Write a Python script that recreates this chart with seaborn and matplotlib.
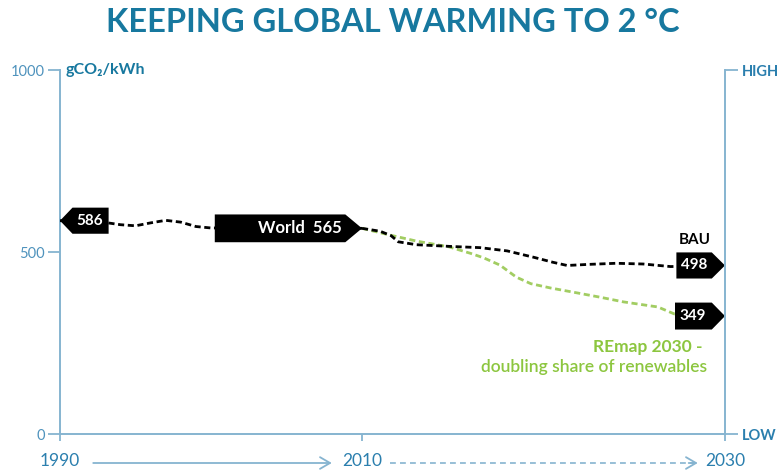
import numpy as np
import pandas as pd
import matplotlib
matplotlib.use("Agg")
import matplotlib.pyplot as plt
import seaborn as sns
from matplotlib.patches import Polygon
from matplotlib.transforms import Affine2D, ScaledTranslation, blended_transform_factory

sns.set_theme(style="ticks")
plt.rcParams['font.family'] = ['Lato', 'DejaVu Sans']

# data (gCO2/kWh)
world_years = [1990, 1992, 1993, 1994, 1995, 1996, 1997, 1998, 1999, 2000, 2003, 2006, 2010]
world_vals = [586, 586, 581, 575, 572, 580, 587, 582, 570, 566, 566, 565, 565]

bau_years = [2010, 2011, 2011.6, 2012, 2013, 2015, 2016.5, 2018, 2019.5, 2020.5, 2021.3,
             2022.5, 2024, 2025.5, 2027, 2030]
bau_vals = [565, 557, 545, 528, 520, 515, 512, 503, 485, 472, 463,
            466, 469, 467, 460, 463]

remap_years = [2010, 2011.5, 2013, 2014.8, 2016, 2016.7, 2017.6, 2018.5, 2019.3, 2020.4,
               2021.6, 2023.1, 2024.4, 2026.3, 2027.2, 2030]
remap_vals = [565, 547, 530, 514, 496, 484, 464, 431, 413, 401,
              390, 376, 363, 349, 330, 324]

world_label = "World  565"
start_label = "586"
bau_label = "498"
remap_label = "349"

year_ticks = [1990, 2010, 2030]
y_ticks = [0, 500, 1000]
y_tick_labels = ["0", "500", "1000"]
right_labels = ["LOW", "HIGH"]

title = "KEEPING GLOBAL WARMING TO 2 °C"

title_color = "#17789f"
axis_color = "#86b4d0"
tick_color = "#4f93bd"
year_color = "#2b7fae"
green = "#8cc63f"
line_green = "#a2cd62"

fig = plt.figure(figsize=(7.8, 4.71), dpi=100)
ax = fig.add_axes([60 / 780, 37 / 471, 665 / 780, 364 / 471])

dash = (0, (2.2, 1.3))
sns.lineplot(data=pd.DataFrame({'year': world_years, 'value': world_vals}),
             x='year', y='value', ax=ax, color='black', lw=2, linestyle=dash, zorder=3)
sns.lineplot(data=pd.DataFrame({'year': remap_years, 'value': remap_vals}),
             x='year', y='value', ax=ax, color=line_green, lw=2, linestyle=dash, zorder=2)
sns.lineplot(data=pd.DataFrame({'year': bau_years, 'value': bau_vals}),
             x='year', y='value', ax=ax, color='black', lw=2, linestyle=dash, zorder=3)


# the original stretches 2010-2030 wider than 1990-2010
def fwd(x):
    x = np.asarray(x, dtype=float)
    return np.where(x <= 2010, (x - 1990) / 20 * 302, 302 + (x - 2010) / 20 * 363)


def inv(u):
    u = np.asarray(u, dtype=float)
    return np.where(u <= 302, 1990 + u / 302 * 20, 2010 + (u - 302) / 363 * 20)


ax.set_xscale('function', functions=(fwd, inv))
ax.set_xlim(1990, 2030)
ax.set_ylim(0, 1000)
ax.set_xticks(year_ticks)
ax.set_xticklabels([str(y) for y in year_ticks])
ax.set_yticks(y_ticks)
ax.set_yticklabels(y_tick_labels)
ax.minorticks_off()
ax.set_xlabel('')
ax.set_ylabel('')
ax.tick_params(axis='y', length=9, width=1.3, color=axis_color, pad=2, labelsize=10.5, labelcolor=tick_color)
ax.tick_params(axis='x', length=5, width=1.3, color=axis_color, pad=9, labelsize=12.5, labelcolor=year_color)
for s in ['top', 'right']:
    ax.spines[s].set_visible(False)
for s in ['left', 'bottom']:
    ax.spines[s].set_color(axis_color)
    ax.spines[s].set_linewidth(1.4)

ax2 = ax.twinx()
ax2.set_ylim(0, 1000)
ax2.set_yticks([0, 1000])
ax2.set_yticklabels(right_labels)
ax2.tick_params(axis='y', length=9, width=1.3, color=axis_color, pad=3, labelsize=10.5, labelcolor=year_color)
for lab in ax2.get_yticklabels():
    lab.set_fontweight('bold')
for s in ['top', 'left', 'bottom']:
    ax2.spines[s].set_visible(False)
ax2.spines['right'].set_color(axis_color)
ax2.spines['right'].set_linewidth(1.4)

ax.text(0.009, 1.0, 'gCO₂/kWh', transform=ax.transAxes, ha='left', va='center',
        fontsize=11.5, weight='bold', color=title_color)


def tag(x, y, text, width, half, tip, point='right', text_dx=0, size=11):
    # black pentagon label whose tip sits on the data point (sizes in points)
    if point == 'right':
        verts = [(0, 0), (-tip, half), (-width, half), (-width, -half), (-tip, -half)]
    else:
        verts = [(0, 0), (tip, half), (width, half), (width, -half), (tip, -half)]
    trans = Affine2D().scale(1 / 72) + fig.dpi_scale_trans + ScaledTranslation(x, y, ax.transData)
    ax.add_artist(Polygon(verts, closed=True, transform=trans, fc='black', ec='none',
                          zorder=4, clip_on=False))
    ax.annotate(text, (x, y), xytext=(text_dx, 0), textcoords='offset points',
                ha='center', va='center', color='white', fontsize=size, weight='bold',
                zorder=5, annotation_clip=False)


tag(world_years[0], world_vals[0], start_label, 35, 9.4, 9, point='left', text_dx=21)
tag(world_years[-1], world_vals[-1], world_label, 106, 10, 12, point='right', text_dx=-45, size=12)
tag(bau_years[-1], bau_vals[-1], bau_label, 35, 9.4, 9.5, point='right', text_dx=-22)
tag(remap_years[-1], remap_vals[-1], remap_label, 36, 9.7, 9.5, point='right', text_dx=-23)

ax.annotate('BAU', (bau_years[-1], bau_vals[-1]), xytext=(-22, 18), textcoords='offset points',
            ha='center', va='center', fontsize=11, weight='bold', color='black')
ax.annotate('REmap 2030 -', (remap_years[-1], remap_vals[-1]), xytext=(-16, -22),
            textcoords='offset points', ha='right', va='center', fontsize=12.5,
            weight='bold', color=green)
ax.annotate('doubling share of renewables', (remap_years[-1], remap_vals[-1]), xytext=(-13, -37),
            textcoords='offset points', ha='right', va='center', fontsize=12.5,
            weight='semibold', color=green)

# arrows between the year labels
arr = blended_transform_factory(ax.transData, ax.transAxes)
ya = -29 / 364
ax.annotate('', xy=(2008.0, ya), xytext=(1992.2, ya), xycoords=arr,
            arrowprops=dict(arrowstyle='->, head_length=0.6, head_width=0.35', color=axis_color,
                            lw=1.3, shrinkA=0, shrinkB=0), annotation_clip=False)
ax.plot([2011.55, 2028.3], [ya, ya], transform=arr, color=axis_color, lw=1.2,
        ls=(0, (3.5, 2.5)), clip_on=False)
ax.annotate('', xy=(2028.5, ya), xytext=(2028.0, ya), xycoords=arr,
            arrowprops=dict(arrowstyle='->, head_length=0.6, head_width=0.35', color=axis_color,
                            lw=1.3, shrinkA=0, shrinkB=0), annotation_clip=False)

fig.text(0.503, 1 - 22 / 471, title, ha='center', va='center', fontsize=23.5,
         weight='bold', color=title_color)

fig.savefig("out.png", dpi=100)
